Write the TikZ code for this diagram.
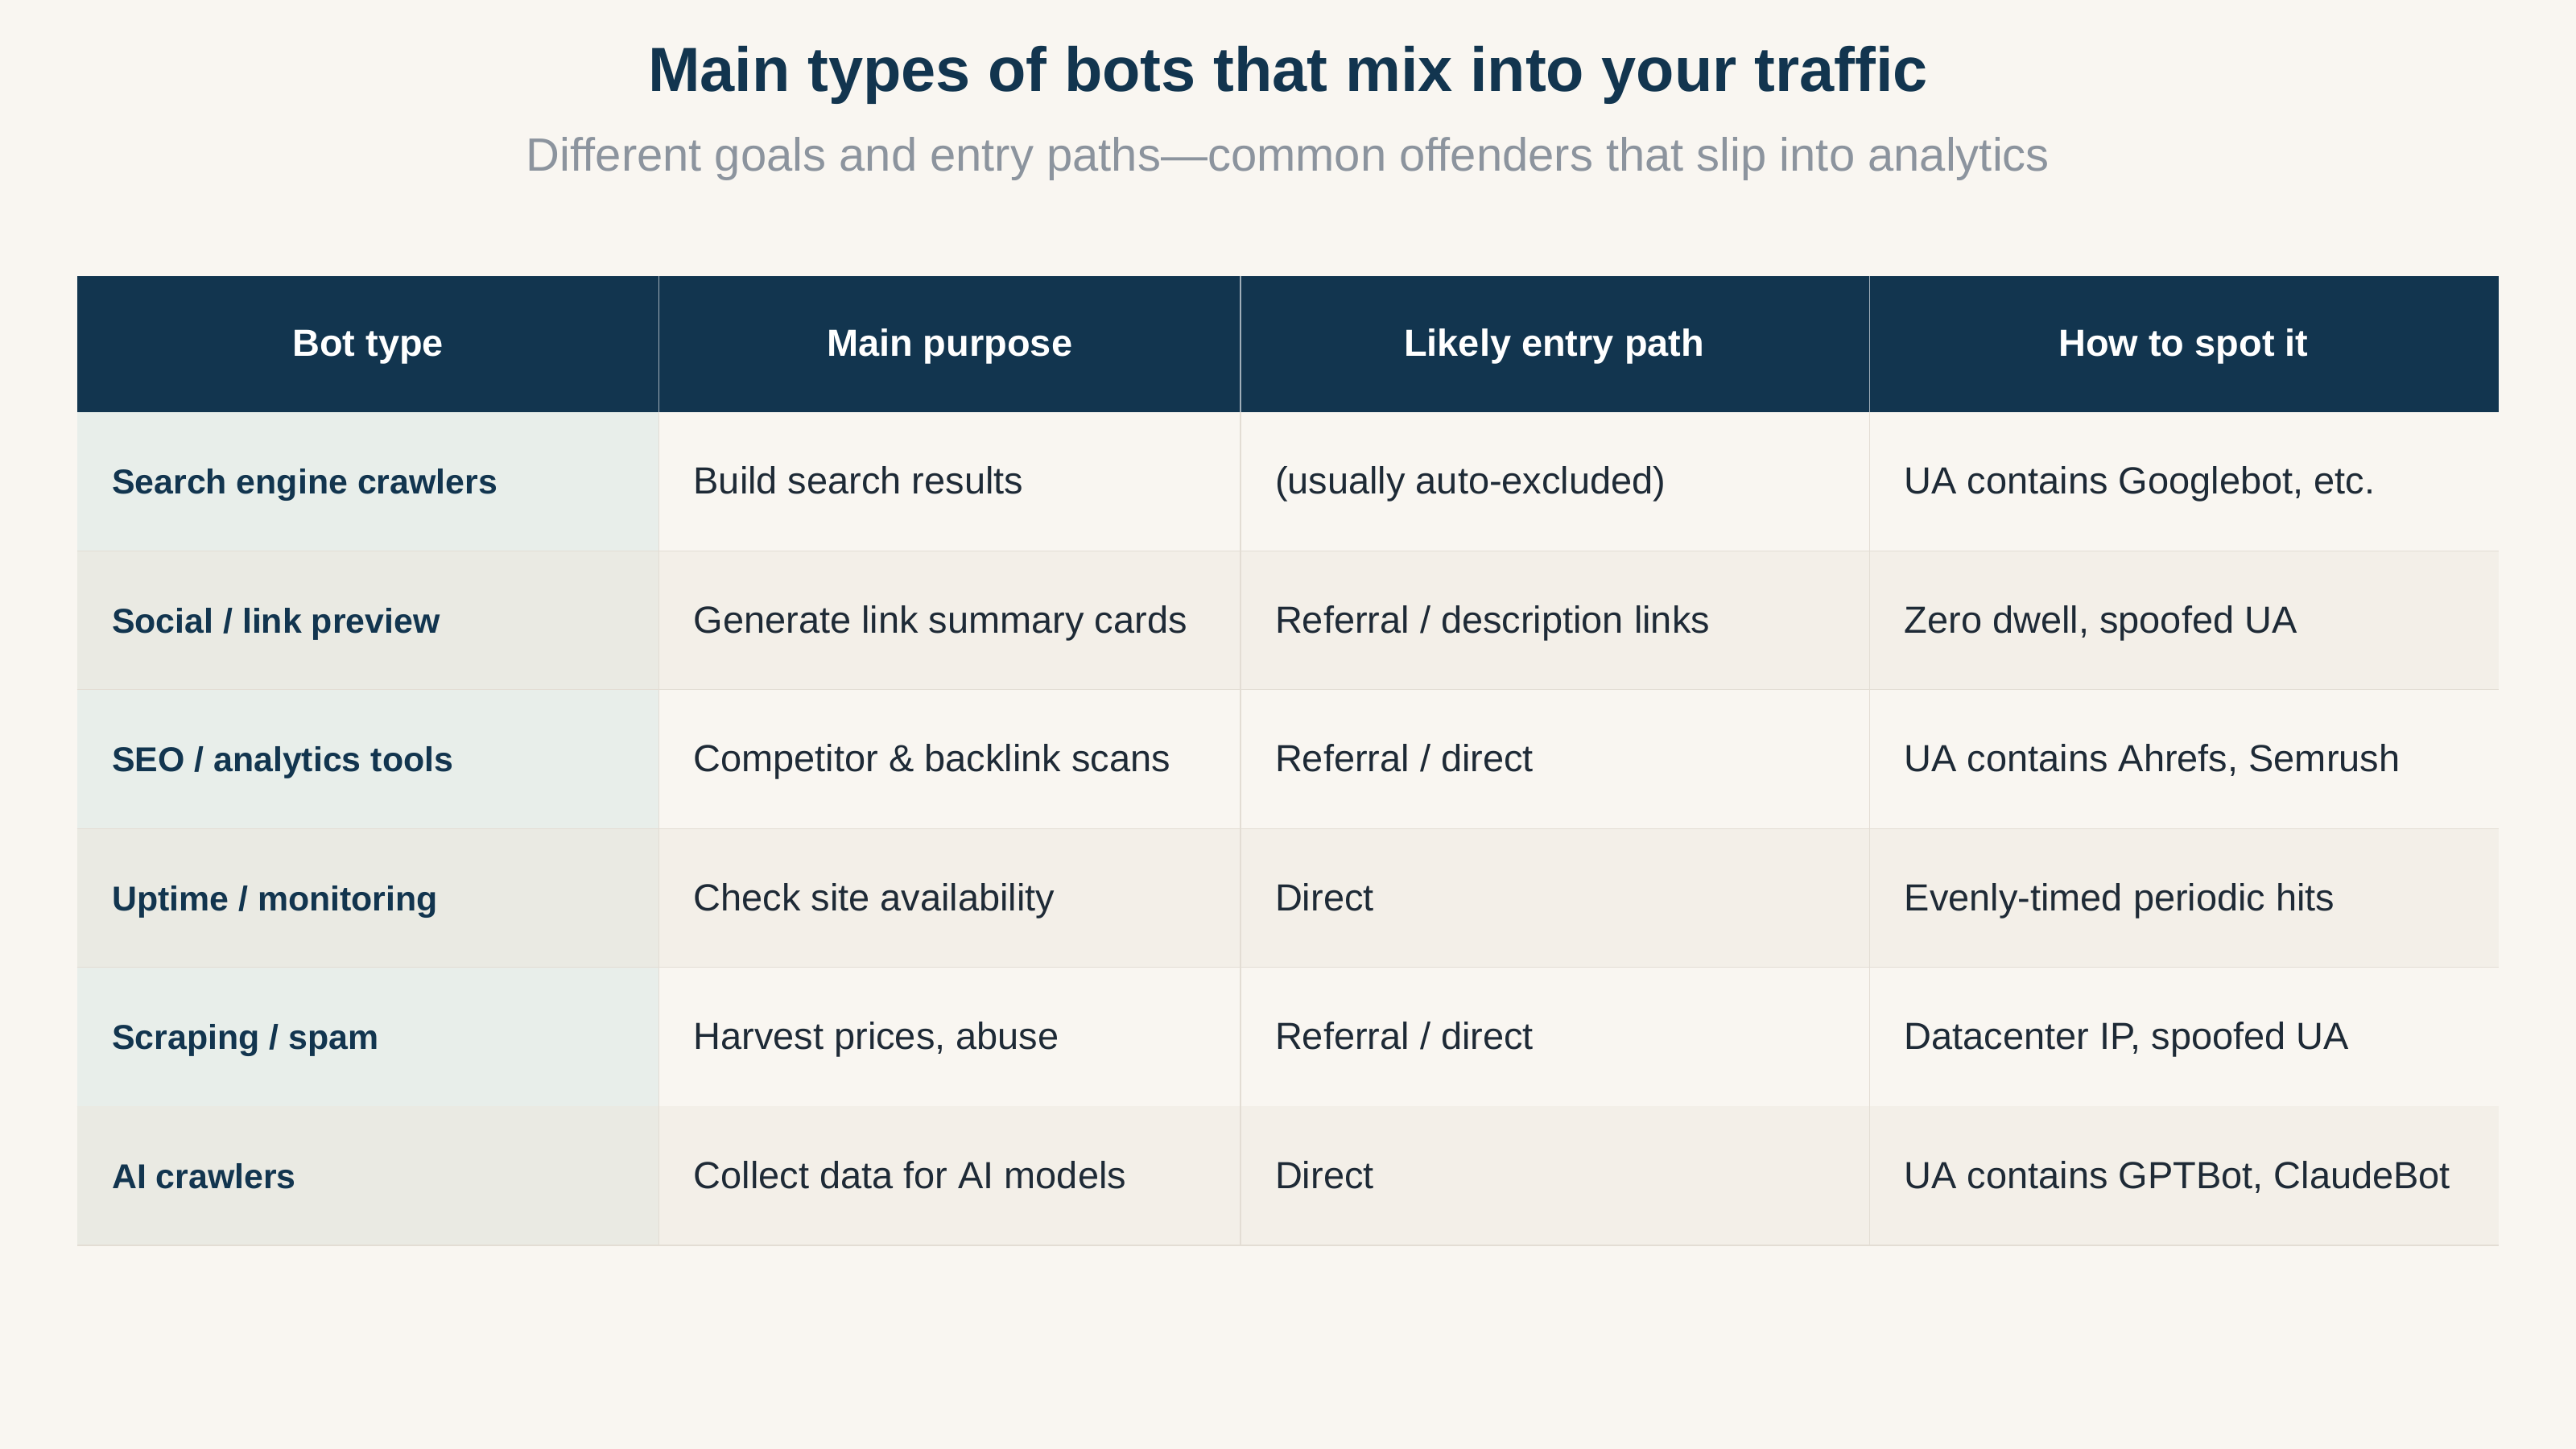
\documentclass[tikz,border=0pt]{standalone}
\usepackage{fontspec}
\setmainfont{Liberation Sans}
\definecolor{bg}{HTML}{F9F6F1}
\definecolor{navy}{HTML}{12354F}
\definecolor{sub}{HTML}{8C949E}
\definecolor{rowA}{HTML}{F9F6F1}
\definecolor{rowB}{HTML}{F3EFE8}
\definecolor{firstA}{HTML}{E8EEEA}
\definecolor{firstB}{HTML}{EAEAE3}
\definecolor{gridc}{HTML}{E3DDD4}
\definecolor{txt}{HTML}{1E2A36}
\begin{document}
\begin{tikzpicture}[x=1pt,y=-1pt,
  hdr/.style={font=\fontsize{23}{26}\selectfont\bfseries, text=white, anchor=base},
  first/.style={font=\fontsize{21}{24}\selectfont\bfseries, text=navy, anchor=base west, inner sep=0pt},
  cell/.style={font=\fontsize{23}{26}\selectfont, text=txt, anchor=base west, inner sep=0pt}]
\fill[bg] (0,0) rectangle (1568,882);
\useasboundingbox (0,0) rectangle (1568,882);
\node[font=\fontsize{38}{44}\selectfont\bfseries, text=navy] (title) at (784,46) {Main types of bots that mix into your traffic};
\node[font=\fontsize{28.4}{32}\selectfont, text=sub] (subtitle) at (784,97) {Different goals and entry paths—common offenders that slip into analytics};
\fill[navy] (47,168) rectangle (1521,251);
\def\rowh{84.5}
\foreach \i in {0,...,5}{
  \pgfmathsetmacro{\ya}{251+\i*\rowh}
  \pgfmathsetmacro{\yb}{251+(\i+1)*\rowh}
  \pgfmathtruncatemacro{\odd}{mod(\i,2)}
  \ifnum\odd=0
    \fill[rowA] (401,\ya) rectangle (1521,\yb);
    \fill[firstA] (47,\ya) rectangle (401,\yb);
  \else
    \fill[rowB] (401,\ya) rectangle (1521,\yb);
    \fill[firstB] (47,\ya) rectangle (401,\yb);
  \fi
  \draw[gridc, line width=0.8] (47,\yb) -- (1521,\yb);
}
\foreach \x in {401,755,1138}{
  \draw[gridc, line width=0.8] (\x,251) -- (\x,758);
  \draw[white!60!navy, line width=0.8] (\x,168) -- (\x,251);
}
\node[hdr] (h1) at (224,217) {Bot type};
\node[hdr] (h2) at (578,217) {Main purpose};
\node[hdr] (h3) at (946,217) {Likely entry path};
\node[hdr] (h4) at (1329,217) {How to spot it};
\def\sep{ / }
\foreach \i/\a/\b/\c/\d in {
 0/Search engine crawlers/Build search results/(usually auto-excluded)/{UA contains Googlebot, etc.},
 1/{Social\sep link preview}/Generate link summary cards/{Referral\sep description links}/{Zero dwell, spoofed UA},
 2/{SEO\sep analytics tools}/Competitor \& backlink scans/{Referral\sep direct}/{UA contains Ahrefs, Semrush},
 3/{Uptime\sep monitoring}/Check site availability/Direct/Evenly-timed periodic hits,
 4/{Scraping\sep spam}/{Harvest prices, abuse}/{Referral\sep direct}/{Datacenter IP, spoofed UA},
 5/AI crawlers/Collect data for AI models/Direct/{UA contains GPTBot, ClaudeBot}}{
  \pgfmathsetmacro{\yc}{251+(\i+0.5)*\rowh+7.5}
  \node[first] (a\i) at (68,\yc) {\a};
  \node[cell] (b\i) at (422,\yc) {\b};
  \node[cell] (c\i) at (776,\yc) {\c};
  \node[cell] (d\i) at (1159,\yc) {\d};
}
\end{tikzpicture}
\end{document}
